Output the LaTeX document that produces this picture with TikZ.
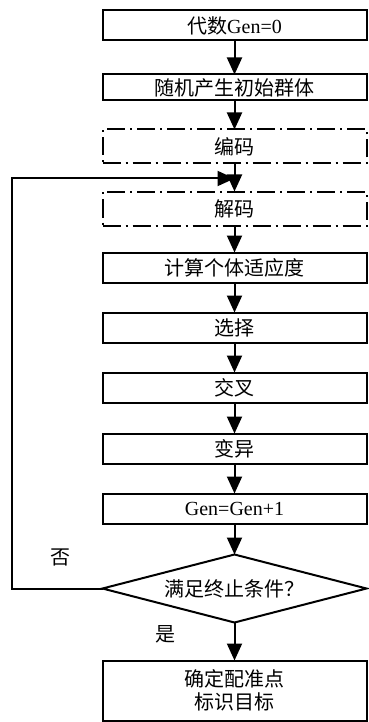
\documentclass[tikz,border=0pt]{standalone}
\usepackage{fontspec}
\setmainfont{Liberation Serif}
\newfontfamily\cjk{Noto Sans CJK SC}
\usetikzlibrary{positioning,shapes.geometric,arrows.meta}

\begin{document}
\begin{tikzpicture}[node distance=30pt,
  every node/.style={font=\fontsize{20}{23}\selectfont},
  box/.style={draw, line width=2pt, outer sep=0pt, minimum width=264pt, minimum height=30pt, inner sep=0pt},
  dbox/.style={box, dash pattern=on 18pt off 5pt on 2pt off 5pt, minimum height=34pt},
  cond/.style={draw, line width=2pt, outer sep=0pt, diamond, aspect=3.9, minimum width=264pt, minimum height=68pt, inner sep=0pt},
  arr/.style={line width=2pt, -{Triangle[length=17pt,width=15pt]}}]
  \useasboundingbox (0,0) rectangle (368pt,-722pt);
  \node (gen0) [box] at (234.5pt,-25.5pt) {{\cjk 代数}Gen=0};
  \node (init) [box, minimum height=26pt, below=34pt of gen0] {\cjk 随机产生初始群体};
  \node (enc) [dbox, below=29pt of init] {\cjk 编码};
  \node (dec) [dbox, below=28pt of enc] {\cjk 解码};
  \node (fit) [box, below=27pt of dec] {\cjk 计算个体适应度};
  \node (sel) [box, below=of fit] {\cjk 选择};
  \node (cross) [box, below=of sel] {\cjk 交叉};
  \node (mut) [box, below=31pt of cross] {\cjk 变异};
  \node (inc) [box, below=of mut] {Gen=Gen+1};
  \node (cond) [cond, below=31pt of inc] {\cjk 满足终止条件？};
  \node (goal) [box, minimum height=60pt, align=center, below=38pt of cond] {\cjk 确定配准点\\\cjk 标识目标};
  \coordinate[below=15pt of enc] (merge);
  \node (no) [above left=19pt and 28pt of cond.west] {\cjk 否};
  \foreach \a/\b in {gen0/init, init/enc, enc/dec, dec/fit, fit/sel, sel/cross, cross/mut, mut/inc, inc/cond}
    \draw[arr] (\a) -- (\b);
  \draw[arr] (cond) -- node[pos=0.3, left=55pt]{\cjk 是} (goal);
  \draw[arr] (cond.west) -- ++(-91pt,0) |- (merge);
\end{tikzpicture}
\end{document}
